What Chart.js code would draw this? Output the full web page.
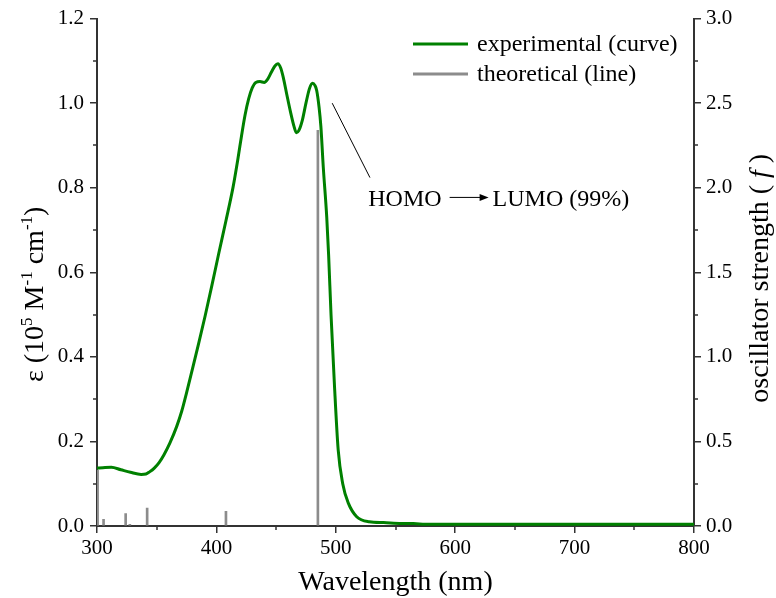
<!DOCTYPE html>
<html>
<head>
<meta charset="utf-8">
<script src="https://cdn.jsdelivr.net/npm/chart.js@4"></script>
<style>
  html, body { margin: 0; padding: 0; background: #fff; }
  #wrap { width: 776px; height: 598px; position: relative; }
</style>
</head>
<body>
<div id="wrap"><canvas id="chart"></canvas></div>
<script>
// Experimental absorption curve (nm, 10^5 M-1 cm-1)
const expWavelength = [300,305,312,320,328,337,341,344,348,352,356,361,366.7,371,375,380,385,390.5,396,402,408,414,418,421,424,427,430,433,436.5,440,443,446,449,451.5,454,456,459,462,465,467,469,472,475,478,480.5,482.5,484,486,487.5,489.5,492.4,494,496,498.8,502,505.8,510.5,517.5,528,540,555,565,575,600,700,800];
const expEpsilon = [0.137,0.138,0.139,0.133,0.127,0.122,0.123,0.128,0.137,0.150,0.168,0.196,0.235,0.272,0.315,0.372,0.430,0.496,0.566,0.645,0.722,0.802,0.868,0.922,0.972,1.010,1.036,1.049,1.051,1.049,1.057,1.073,1.088,1.093,1.082,1.061,1.020,0.980,0.945,0.930,0.935,0.960,1.000,1.035,1.047,1.042,1.030,0.990,0.945,0.849,0.731,0.640,0.500,0.337,0.180,0.100,0.054,0.022,0.010,0.008,0.006,0.006,0.004,0.004,0.004,0.004];

// Theoretical transitions (nm, oscillator strength)
const stickWavelength = [300.5, 305.5, 324, 327.5, 342, 408, 485];
const stickStrength = [0.33, 0.04, 0.073, 0.01, 0.106, 0.087, 2.34];

// Axes
const xRange = [300, 800];
const xStep = 100;
const epsRange = [0, 1.2];
const epsStep = 0.2;
const fRange = [0, 3.0];
const fStep = 0.5;

const seriesLabels = ['experimental (curve)', 'theoretical (line)'];
const annotationParts = ['HOMO', 'LUMO (99%)'];

const SERIF = '"Liberation Serif", "Times New Roman", serif';
const AXIS_COLOR = '#333';
const GREEN = '#008000';
const GRAY = '#8c8c8c';

const expPoints = expWavelength.map((x, i) => ({ x, y: expEpsilon[i] }));
const stickPoints = stickWavelength.map((x, i) => ({ x, y: stickStrength[i] }));

// draws minor ticks, legend, annotation and axis titles
const decorations = {
    id: 'decorations',
    afterDraw(chart) {
        const ctx = chart.ctx;
        const { left, right, top, bottom } = chart.chartArea;
        const xs = chart.scales.x, ys = chart.scales.y, fs = chart.scales.y2;

        ctx.save();
        ctx.strokeStyle = AXIS_COLOR;
        ctx.lineWidth = 1.5;
        ctx.beginPath();
        for (let v = xRange[0] + xStep / 2; v < xRange[1]; v += xStep) {
            const px = Math.round(xs.getPixelForValue(v));
            ctx.moveTo(px, bottom); ctx.lineTo(px, bottom + 4);
        }
        for (let v = epsRange[0] + epsStep / 2; v < epsRange[1]; v += epsStep) {
            const py = Math.round(ys.getPixelForValue(v));
            ctx.moveTo(left, py); ctx.lineTo(left - 4, py);
        }
        for (let v = fRange[0] + fStep / 2; v < fRange[1]; v += fStep) {
            const py = Math.round(fs.getPixelForValue(v));
            ctx.moveTo(right, py); ctx.lineTo(right + 4, py);
        }
        ctx.stroke();

        // legend
        ctx.font = '24px ' + SERIF;
        ctx.textBaseline = 'middle';
        ctx.fillStyle = '#000';
        const legendColors = [GREEN, GRAY];
        seriesLabels.forEach((lab, i) => {
            const y = 44 + i * 30;
            ctx.strokeStyle = legendColors[i];
            ctx.lineWidth = 3;
            ctx.beginPath();
            ctx.moveTo(413, y); ctx.lineTo(468, y);
            ctx.stroke();
            ctx.fillText(lab, 477, y + 1);
        });

        // leader line to the main transition
        ctx.strokeStyle = '#000';
        ctx.lineWidth = 1;
        ctx.beginPath();
        ctx.moveTo(xs.getPixelForValue(497), ys.getPixelForValue(1.0));
        ctx.lineTo(xs.getPixelForValue(528.6), ys.getPixelForValue(0.824));
        ctx.stroke();

        // HOMO -> LUMO label
        ctx.textBaseline = 'alphabetic';
        ctx.font = '24px ' + SERIF;
        const tx = xs.getPixelForValue(527.2);
        const ty = ys.getPixelForValue(0.757);
        ctx.fillText(annotationParts[0], tx, ty);
        const a0 = tx + ctx.measureText(annotationParts[0]).width + 8;
        const a1 = a0 + 39;
        const ay = ty - 8.5;
        ctx.beginPath();
        ctx.moveTo(a0, ay); ctx.lineTo(a1 - 8, ay);
        ctx.stroke();
        ctx.beginPath();
        ctx.moveTo(a1, ay); ctx.lineTo(a1 - 9, ay - 3.5); ctx.lineTo(a1 - 9, ay + 3.5);
        ctx.closePath();
        ctx.fill();
        ctx.fillText(annotationParts[1], a1 + 4, ty);

        // x title
        ctx.font = '28px ' + SERIF;
        ctx.textAlign = 'center';
        ctx.fillText('Wavelength (nm)', (left + right) / 2, 590);

        // left title with superscripts
        const parts = [['ε (10', 0], ['5', 1], [' M', 0], ['-1', 1], [' cm', 0], ['-1', 1], [')', 0]];
        drawRotated(ctx, parts, 43, (top + bottom) / 2 + 22);

        // right title with italic f
        const rparts = [['oscillator strength ( ', 0], ['f', 2], [' )', 0]];
        drawRotated(ctx, rparts, 768, (top + bottom) / 2 + 6);
        ctx.restore();
    }
};

function partFont(kind) {
    if (kind === 1) return '17px ' + SERIF;
    if (kind === 2) return 'italic 28px ' + SERIF;
    return '28px ' + SERIF;
}

function drawRotated(ctx, parts, x, cy) {
    ctx.save();
    ctx.textAlign = 'left';
    ctx.textBaseline = 'alphabetic';
    let total = 0;
    parts.forEach(p => { ctx.font = partFont(p[1]); total += ctx.measureText(p[0]).width; });
    ctx.translate(x, cy);
    ctx.rotate(-Math.PI / 2);
    let pos = -total / 2;
    parts.forEach(p => {
        ctx.font = partFont(p[1]);
        ctx.fillText(p[0], pos, p[1] === 1 ? -11 : 0);
        pos += ctx.measureText(p[0]).width;
    });
    ctx.restore();
}

const tickFont = { family: SERIF, size: 21 };

new Chart(document.getElementById('chart'), {
    type: 'line',
    data: {
        datasets: [
            {
                label: seriesLabels[0],
                data: expPoints,
                yAxisID: 'y',
                borderColor: GREEN,
                borderWidth: 3,
                pointRadius: 0,
                cubicInterpolationMode: 'monotone',
                fill: false,
                order: 1
            },
            {
                type: 'bar',
                label: seriesLabels[1],
                data: stickPoints,
                yAxisID: 'y2',
                backgroundColor: GRAY,
                barThickness: 2,
                order: 2
            }
        ]
    },
    options: {
        responsive: true,
        maintainAspectRatio: false,
        animation: false,
        layout: { padding: { top: 18, left: 0, right: 0, bottom: 0 } },
        plugins: { legend: { display: false }, tooltip: { enabled: false } },
        scales: {
            x: {
                type: 'linear',
                position: 'bottom',
                min: xRange[0], max: xRange[1],
                offset: false,
                ticks: { stepSize: xStep, font: tickFont, color: '#000', padding: 3, maxRotation: 0 },
                grid: { display: true, drawOnChartArea: false, drawTicks: true, tickLength: 7, color: AXIS_COLOR, lineWidth: 1.5, offset: false },
                border: { display: true, color: AXIS_COLOR, width: 2 },
                afterFit(s) { s.height = 72; }
            },
            y: {
                position: 'left',
                min: epsRange[0], max: epsRange[1],
                ticks: { stepSize: epsStep, font: tickFont, color: '#000', padding: 6, callback: v => v.toFixed(1) },
                grid: { display: true, drawOnChartArea: false, drawTicks: true, tickLength: 7, color: AXIS_COLOR, lineWidth: 1.5 },
                border: { display: true, color: AXIS_COLOR, width: 2 },
                afterFit(s) { s.width = 97; }
            },
            y2: {
                position: 'right',
                min: fRange[0], max: fRange[1],
                ticks: { stepSize: fStep, font: tickFont, color: '#000', padding: 5, callback: v => v.toFixed(1) },
                grid: { display: true, drawOnChartArea: false, drawTicks: true, tickLength: 7, color: AXIS_COLOR, lineWidth: 1.5 },
                border: { display: true, color: AXIS_COLOR, width: 2 },
                afterFit(s) { s.width = 82; }
            }
        }
    },
    plugins: [decorations]
});
</script>
</body>
</html>
